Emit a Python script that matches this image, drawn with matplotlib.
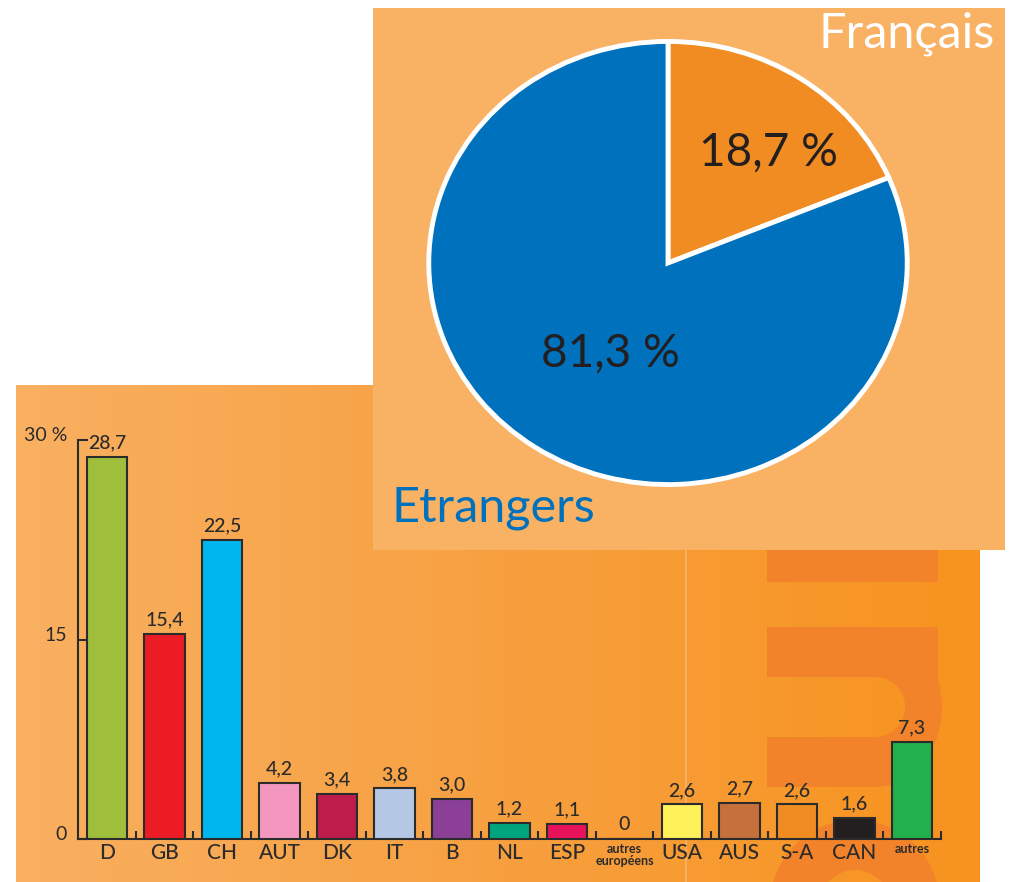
import numpy as np
import matplotlib.pyplot as plt
from matplotlib.patches import Rectangle, Wedge, Polygon
from matplotlib.colors import LinearSegmentedColormap
from matplotlib.transforms import ScaledTranslation

plt.rcParams['font.family'] = ['Lato', 'DejaVu Sans']

# Données : répartition des clients étrangers par pays (%)
pays = ["D", "GB", "CH", "AUT", "DK", "IT", "B", "NL", "ESP",
        "autres\neuropéens", "USA", "AUS", "S-A", "CAN", "autres"]
parts = [28.7, 15.4, 22.5, 4.2, 3.4, 3.8, 3.0, 1.2, 1.1, 0, 2.6, 2.7, 2.6, 1.6, 7.3]
couleurs = ["#9FBE3B", "#EC1C24", "#00B6EE", "#F497BE", "#BE1C4A", "#B4C8E6",
            "#8B3F97", "#00A57E", "#E8125A", "none", "#FFF15A", "#C6703C",
            "#EF8C22", "#231F20", "#21B04B"]
petits_labels = ["autres\neuropéens", "autres"]
yticks = [0, 15, 30]
ylabels = ["0", "15", "30 %"]

# Données : Français / Etrangers
origine = ["Français", "Etrangers"]
repartition = [18.7, 81.3]
couleurs_pie = ["#F08C21", "#0071BC"]

W, H = 1009, 882
ink = "#2B2B2B"


def box(x0, y0, x1, y1):
    # pixel box (top-left origin) -> figure fraction
    return [x0 / W, 1 - y1 / H, (x1 - x0) / W, (y1 - y0) / H]


fig = plt.figure(figsize=(W / 100, H / 100), dpi=100, facecolor="white")

# Background panels
bg = fig.add_axes([0, 0, 1, 1], zorder=0)
grad = np.linspace(0, 1, 256).reshape(1, -1)
cmap = LinearSegmentedColormap.from_list("orange", ["#F9B061", "#F7A040", "#F7931E"])
bg.imshow(grad, extent=[16, 980, 882, 385], cmap=cmap, aspect="auto", zorder=0)

# decorative big letters in darker orange
deco = "#F3832A"
bg.add_patch(Rectangle((767, 540), 171, 42, color=deco, lw=0, zorder=1))
bg.add_patch(Rectangle((767, 627), 171, 50, color=deco, lw=0, zorder=1))
bg.add_patch(Rectangle((767, 737), 108, 50, color=deco, lw=0, zorder=1))
t = np.linspace(-np.pi / 2, np.pi / 2, 60)
outer = np.column_stack([875 + 67 * np.cos(t), 707 + 80 * np.sin(t)])
inner = np.column_stack([875 + 30 * np.cos(t[::-1]), 707 + 30 * np.sin(t[::-1])])
bg.add_patch(Polygon(np.vstack([outer, inner]), closed=True, color=deco, lw=0, zorder=1))
bg.add_patch(Wedge((855, 905), 85, 180, 360, width=50, color=deco, lw=0, zorder=1))
bg.plot([686, 686], [550, 882], color="#F9B46C", lw=1.2, zorder=1)

# pie panel
bg.add_patch(Rectangle((373, 8), 632, 542, color="#F9B163", lw=0, zorder=2))
bg.text(995, 47, origine[0], ha="right", va="baseline", color="white", fontsize=35, zorder=3)
bg.text(392, 522, origine[1], ha="left", va="baseline", color="#0071BC", fontsize=35, zorder=3)
bg.set_xlim(0, W)
bg.set_ylim(H, 0)
bg.axis("off")

# Bar chart
ax = fig.add_axes(box(78.25, 440, 940.75, 839), zorder=1)
ax.set_facecolor("none")
x = np.arange(len(pays))
ax.bar(x, parts, width=0.7, color=couleurs, edgecolor=ink, linewidth=1.5, zorder=3)
for i, v in enumerate(parts):
    txt = f"{v:.1f}".replace(".", ",") if v else "0"
    ax.annotate(txt, (i, v), xytext=(0, 4), textcoords="offset points",
                ha="center", va="bottom", fontsize=14, color=ink, fontweight="medium")

ax.set_xlim(-0.5, len(pays) - 0.5)
ax.set_ylim(0, 30)
for s in ["top", "right"]:
    ax.spines[s].set_visible(False)
for s in ["left", "bottom"]:
    ax.spines[s].set_color(ink)
    ax.spines[s].set_linewidth(1.5)

ax.set_yticks(yticks, ylabels)
ax.tick_params(axis="y", direction="in", length=7, width=1.5, color=ink,
               labelsize=14, labelcolor=ink, pad=8)
for lbl in ax.get_yticklabels():
    lbl.set_transform(lbl.get_transform() + ScaledTranslation(0, 4 / 72, fig.dpi_scale_trans))

ax.set_xticks(x, pays)
ax.set_xticks(np.arange(len(pays)) + 0.5, minor=True)
ax.tick_params(axis="x", which="major", length=0, labelsize=15, labelcolor=ink, pad=3)
ax.tick_params(axis="x", which="minor", direction="in", length=6, width=1.5, color=ink)
for lbl in ax.get_xticklabels():
    lbl.set_fontweight("medium")
    if lbl.get_text() in petits_labels:
        lbl.set_fontsize(9)
        lbl.set_fontweight("bold")
        lbl.set_linespacing(1.0)

# Pie chart
pa = fig.add_axes(box(424, 37, 912, 489), zorder=2)
pa.pie(repartition, colors=couleurs_pie, startangle=90, counterclock=False,
       wedgeprops=dict(edgecolor="white", linewidth=3.5))
pa.set_aspect("auto")
pa.set_xlim(-1.02, 1.02)
pa.set_ylim(-1.02, 1.02)
pa.text(0.42, 0.5, "18,7 %", ha="center", va="center", fontsize=33, color="#231F20")
pa.text(-0.24, -0.41, "81,3 %", ha="center", va="center", fontsize=33, color="#231F20")

fig.savefig("out.png", dpi=100)
